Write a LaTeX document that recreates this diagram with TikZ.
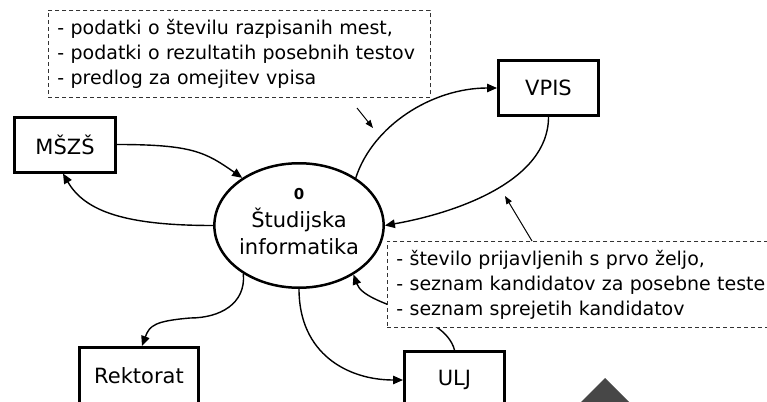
\documentclass[tikz,border=0pt]{standalone}
\usepackage{fontspec}
\setmainfont{DejaVu Sans}
\usetikzlibrary{shapes.geometric,arrows.meta}
\begin{document}
\begin{tikzpicture}[x=1pt,y=1pt,
  proc/.style={draw, rectangle, line width=3pt, minimum height=55pt, inner sep=0pt, font=\fontsize{21}{26}\selectfont},
  flow/.style={line width=1.4pt, -{Triangle[length=10pt,width=8.5pt]}},
  pointer/.style={line width=1pt, -{Triangle[length=8pt,width=6pt]}},
  note/.style={draw=black!80, line width=0.9pt, dash pattern=on 4pt off 3pt, fill=white, align=left, anchor=north west, inner xsep=9pt, inner ysep=0pt, font=\fontsize{19}{25}\selectfont},
]
\useasboundingbox (0,0) rectangle (767,-401);
\clip (0,0) rectangle (767,-401);

% processes / entities
\node[proc, minimum width=101pt] (m) at (65,-144.5) {MŠZŠ};
\node[proc, minimum width=100pt] (v) at (548.5,-88) {VPIS};
\node[proc, minimum width=119pt, minimum height=57pt] (r) at (139,-376) {Rektorat};
\node[proc, minimum width=100pt, minimum height=57pt] (u) at (454.5,-380) {ULJ};

\node[ellipse, draw, line width=2.5pt, minimum width=161.5pt, minimum height=124.5pt, inner sep=0pt, align=center, font=\fontsize{21}{27.5}\selectfont] (e) at (299,-225.5)
  {{\fontsize{15}{18}\selectfont\bfseries 0}\\Študijska\\informatika\rule[-8pt]{0pt}{0pt}};

% connectors
\coordinate (rk) at (190,-318);
\draw[flow] (m.east) .. controls +(0:75) and +(145:45) .. (e.140);
\draw[flow] (e.west) .. controls +(180:85) and +(-60:45) .. ([xshift=-2pt]m.south);
\draw[flow] (e.40) .. controls +(72:55) and +(180:65) .. (v.west);
\draw[flow] (v.south) .. controls +(270:65) and +(10:70) .. (e.east);
\draw[flow] (e.221) .. controls +(275:30) and +(0:30) .. (rk) .. controls +(185:35) and +(70:22) .. ([xshift=3pt]r.north);
\draw[flow] (e.south) .. controls +(270:65) and +(180:55) .. (u.west);
\draw[flow] (u.north) .. controls +(105:40) and +(-70:35) .. (e.318);

% notes
\node[note, minimum height=87pt, text width=364pt] (n1) at (48,-10)
  {- podatki o številu razpisanih mest,\\- podatki o rezultatih posebnih testov\\- predlog za omejitev vpisa};
\node[note, minimum height=86pt, text width=385pt] (n2) at (387,-241)
  {- število prijavljenih s prvo željo,\\- seznam kandidatov za posebne teste\\- seznam sprejetih kandidatov};

% pointers
\coordinate (p1s) at (357,-108);
\coordinate (p1e) at (373,-128);
\coordinate (p2e) at (505,-196);
\draw[pointer] (p1s) -- (p1e);
\draw[pointer] ([xshift=145pt]n2.north west) -- (p2e);

% cut-off triangle
\fill[black!72] (605,-378) -- (645,-418) -- (565,-418) -- cycle;
\end{tikzpicture}
\end{document}
